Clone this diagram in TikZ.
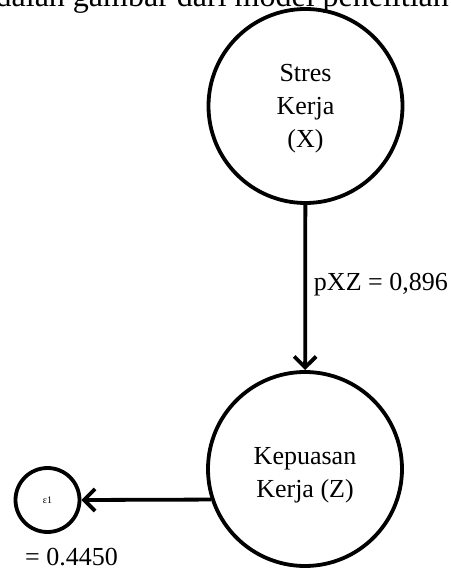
\documentclass[tikz,border=0pt]{standalone}
\usepackage{fontspec}
\setmainfont{Liberation Serif}
\usetikzlibrary{arrows.meta}
\begin{document}
\begin{tikzpicture}[x=1pt,y=1pt,
  latent/.style={circle,draw,line width=3.8pt,inner sep=0pt},
  big/.style={latent,minimum size=194pt},
  small/.style={latent,minimum size=64pt},
  label/.style={font=\fontsize{26}{33}\selectfont,align=center},
  path/.style={line width=3.8pt,-{Straight Barb[length=11pt,width=22pt,line width=3.8pt]}}]
\useasboundingbox (0,0) rectangle (450,573);
\clip (0,0) rectangle (450,573);
% running text of the page above the figure
\node[anchor=base east,inner sep=0pt,font=\fontsize{32}{38}\selectfont] (body) at (449,566)
  {adalah gambar dari model penelitian};
% latent variables
\node[big] (X) at (305.5,467) {};
\node[label] (Xt) at (305.5,464) {Stres\\Kerja\\(X)};
\node[big] (Z) at (305,104) {};
\node[label] (Zt) at (305,98) {Kepuasan\\Kerja (Z)};
\node[small] (e) at (47.5,73) {};
\node[font=\fontsize{10}{11}\selectfont] (et) at (47.5,73) {ε1};
% paths
\draw[path] (X) -- (Z);
\draw[path] (Z.198.6) -- (e.east);
\node[label,anchor=east,inner sep=0pt] (pxz) at (448,288) {pXZ = 0,896};
\node[label,anchor=west,inner sep=0pt] (ev) at (25,16) {= 0.4450};
\end{tikzpicture}
\end{document}
